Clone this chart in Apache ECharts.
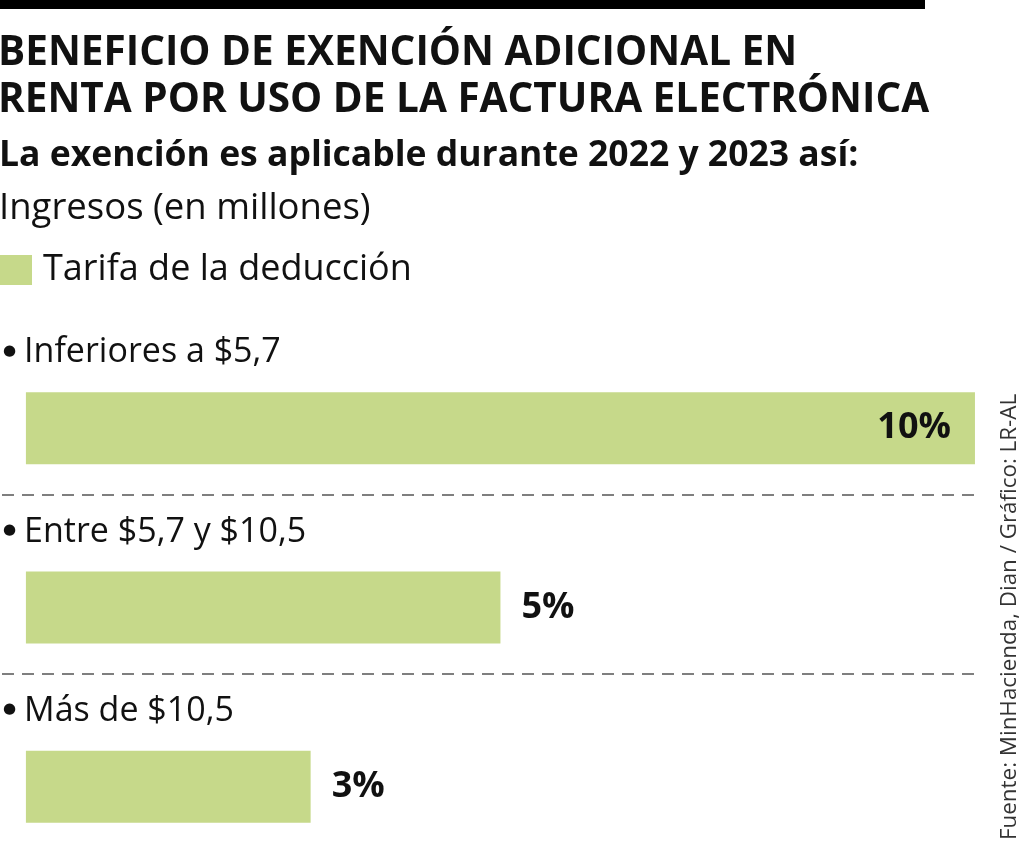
<!DOCTYPE html>
<html>
<head>
<meta charset="utf-8">
<script src="https://cdn.jsdelivr.net/npm/echarts@6/dist/echarts.min.js"></script>
<style>
html,body{margin:0;padding:0;background:#fff;}
#chart{width:1024px;height:853px;}
</style>
</head>
<body>
<div id="chart"></div>
<script>
const titleText = 'BENEFICIO DE EXENCIÓN ADICIONAL EN\nRENTA POR USO DE LA FACTURA ELECTRÓNICA';
const subtitleText = 'La exención es aplicable durante 2022 y 2023 así:';
const unitText = 'Ingresos (en millones)';
const seriesName = 'Tarifa de la deducción';
const sourceText = 'Fuente: MinHacienda, Dian / Gráfico: LR-AL';
const categories = ['Inferiores a $5,7', 'Entre $5,7 y $10,5', 'Más de $10,5'];
const rates = [10, 5, 3];

const FONT = "'Open Sans', 'Noto Sans', sans-serif";
const GREEN = '#c6d98a';
const INK = '#111111';
const maxRate = Math.max(...rates);

const chart = echarts.init(document.getElementById('chart'), null, {renderer: 'canvas'});
chart.setOption({
  backgroundColor: '#ffffff',
  animation: false,
  title: [
    {text: titleText, left: -2, top: 30, padding: 0,
     textStyle: {fontFamily: FONT, fontWeight: 'bold', fontSize: 40.5, lineHeight: 47, color: INK}},
    {text: subtitleText, left: -1, top: 135, padding: 0,
     textStyle: {fontFamily: FONT, fontWeight: 'bold', fontSize: 35.5, lineHeight: 42, color: INK}},
    {text: unitText, left: -1, top: 188, padding: 0,
     textStyle: {fontFamily: FONT, fontWeight: 'normal', fontSize: 36.5, lineHeight: 42, color: INK}}
  ],
  legend: {
    data: [seriesName], left: 0, top: 252, padding: 0,
    icon: 'rect', itemWidth: 32, itemHeight: 30,
    selectedMode: false,
    textStyle: {fontFamily: FONT, fontSize: 36, color: INK, padding: [0, 0, 0, 6]}
  },
  graphic: [
    {type: 'rect', left: 0, top: 0, shape: {x: 0, y: 0, width: 925, height: 9}, style: {fill: '#000'}, silent: true},
    {type: 'text', x: 1021, y: 840, rotation: Math.PI / 2, silent: true,
     style: {text: sourceText, font: "22.4px 'Open Sans', sans-serif", fill: '#333',
             textAlign: 'left', textVerticalAlign: 'bottom'}}
  ],
  grid: {left: 0, right: 46, top: 315, height: 544, containLabel: false},
  xAxis: {type: 'value', min: -0.252, max: 10.032, show: false},
  yAxis: {
    type: 'category', data: categories, inverse: true,
    axisLine: {show: false}, axisTick: {show: false},
    splitLine: {show: true, showMinLine: false, showMaxLine: false,
                lineStyle: {color: '#555', width: 1.5, type: [12, 8]}},
    axisLabel: {
      inside: true, margin: 1, padding: [0, 0, 104, 0],
      formatter: v => '{b|●}' + v,
      fontFamily: FONT, fontSize: 34, color: INK,
      rich: {b: {fontFamily: "'DejaVu Sans', sans-serif", fontSize: 15, color: INK, padding: [0, 8, 4, 0]}}
    }
  },
  series: [
    {name: 'spacer', type: 'bar', data: rates.map(() => 0), barWidth: 47, barGap: '0%',
     itemStyle: {color: 'rgba(0,0,0,0)'}, silent: true, label: {show: false}},
    {name: seriesName, type: 'bar', barWidth: 72, barGap: '0%',
     itemStyle: {color: GREEN},
     data: rates.map(v => ({
       value: v,
       label: v === maxRate ? {position: 'insideRight', distance: 24} : {position: 'right', distance: 21}
     })),
     label: {show: true, formatter: '{c}%', fontFamily: FONT, fontWeight: 'bold', fontSize: 36, color: INK}}
  ]
});
</script>
</body>
</html>
